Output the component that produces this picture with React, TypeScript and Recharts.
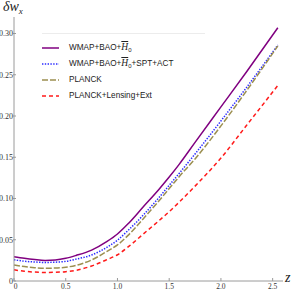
import React from 'react';
import { LineChart, Line, XAxis, YAxis } from 'recharts';

// redshift grid and the four dw_x curves
const zVals = [0, 0.1, 0.2, 0.3, 0.4, 0.5, 0.6, 0.75, 0.9, 1.0, 1.1, 1.25, 1.4, 1.5, 1.6, 1.75, 2.0, 2.25, 2.55];
const wmapBao = [0.0295, 0.0275, 0.026, 0.025, 0.0255, 0.0275, 0.031, 0.0375, 0.048, 0.057, 0.069, 0.09, 0.111, 0.126, 0.142, 0.168, 0.211, 0.254, 0.307];
const wmapSpt = [0.0258, 0.024, 0.023, 0.0225, 0.0228, 0.0238, 0.0265, 0.0315, 0.041, 0.0495, 0.061, 0.08, 0.101, 0.116, 0.131, 0.154, 0.194, 0.235, 0.286];
const planck = [0.0195, 0.0175, 0.0162, 0.0155, 0.0157, 0.0167, 0.019, 0.0255, 0.036, 0.0437, 0.055, 0.0755, 0.097, 0.112, 0.127, 0.148, 0.188, 0.231, 0.285];
const planckLens = [0.0135, 0.0118, 0.0108, 0.0104, 0.0106, 0.0113, 0.013, 0.0182, 0.026, 0.0318, 0.041, 0.057, 0.073, 0.084, 0.096, 0.115, 0.149, 0.189, 0.237];

const xTicks = [0, 0.5, 1.0, 1.5, 2.0, 2.5];
const yTicks = [0, 0.05, 0.1, 0.15, 0.2, 0.25, 0.3];

const data = zVals.map((z, i) => ({
  z,
  wmapBao: wmapBao[i],
  wmapSpt: wmapSpt[i],
  planck: planck[i],
  planckLens: planckLens[i],
}));

const AXIS = '#9a9a9a';
const SERIF = '"Liberation Serif", "DejaVu Serif", serif';
const SANS = '"Liberation Sans", Arial, sans-serif';

const series = [
  { key: 'wmapBao', color: '#800080', dash: undefined as string | undefined, label: 'bao' },
  { key: 'wmapSpt', color: '#2a2aff', dash: '1.4 1.4', label: 'spt' },
  { key: 'planck', color: '#9c8f50', dash: '6 2', label: 'planck' },
  { key: 'planckLens', color: '#ff1a1a', dash: '4 3', label: 'lens' },
];

const H0 = () => (
  <>
    <span style={{ fontFamily: SERIF, fontStyle: 'italic', textDecoration: 'overline', fontSize: 9.5 }}>H</span>
    <sub style={{ fontSize: 6, verticalAlign: '-2px' }}>0</sub>
  </>
);

const legendLabels: Record<string, React.ReactNode> = {
  bao: <>WMAP+BAO+<H0 /></>,
  spt: <>WMAP+BAO+<H0 />+SPT+ACT</>,
  planck: <>PLANCK</>,
  lens: <>PLANCK+Lensing+Ext</>,
};

const XTick = (props: any) => {
  const { x, y, payload } = props;
  const v = payload.value;
  return (
    <g>
      <line x1={x} x2={x} y1={y} y2={y - 3} stroke={AXIS} />
      <text x={v === 0 ? x + 1.5 : x} y={y + 2.5} dy="0.71em" textAnchor="middle" fontSize={7.5} fontFamily={SERIF} fill="#333">
        {v === 0 ? '0' : v.toFixed(1)}
      </text>
    </g>
  );
};

const YTick = (props: any) => {
  const { x, y, payload } = props;
  const v = payload.value;
  return (
    <g>
      <line x1={x - 1} x2={x + 2} y1={y} y2={y} stroke={AXIS} />
      <text x={x - 1} y={y} dy="0.35em" textAnchor="end" fontSize={8} fontFamily={SERIF} fill="#333">
        {v === 0 ? '0' : v.toFixed(2)}
      </text>
    </g>
  );
};

export default function App() {
  return (
    <div style={{ position: 'relative', width: 293, height: 290, background: '#fff', overflow: 'hidden' }}>
      <style>{'body{margin:0}'}</style>
      <LineChart width={293} height={290} data={data} margin={{ top: 17, right: 10, bottom: 0, left: 0 }}>
        <XAxis
          dataKey="z"
          type="number"
          domain={[0, 2.6]}
          ticks={xTicks}
          height={9}
          tickSize={0}
          tickMargin={0}
          tickLine={false}
          stroke={AXIS}
          tick={<XTick />}
          interval={0}
        />
        <YAxis
          type="number"
          domain={[0, 0.32]}
          ticks={yTicks}
          width={14}
          tickSize={0}
          tickMargin={0}
          tickLine={false}
          stroke={AXIS}
          tick={<YTick />}
          interval={0}
        />
        {series.map((s) => (
          <Line
            key={s.key}
            type="monotone"
            dataKey={s.key}
            stroke={s.color}
            strokeWidth={1.5}
            strokeDasharray={s.dash}
            dot={false}
            isAnimationActive={false}
          />
        ))}
      </LineChart>

      {/* axis labels */}
      <div style={{ position: 'absolute', left: 3, top: -1, fontFamily: SERIF, fontStyle: 'italic', fontSize: 14, color: '#222' }}>
        δw<sub style={{ fontSize: 9, verticalAlign: '-3px' }}>x</sub>
      </div>
      <div style={{ position: 'absolute', left: 285, top: 270, fontFamily: SERIF, fontStyle: 'italic', fontSize: 14, color: '#222' }}>
        z
      </div>

      {/* legend */}
      <div
        style={{
          position: 'absolute',
          left: 42,
          top: 33,
          width: 163,
          borderTop: '1px solid #ececec',
          paddingTop: 6,
          fontFamily: SANS,
          fontSize: 8.2,
          color: '#222',
        }}
      >
        {series.map((s) => (
          <div key={s.key} style={{ display: 'flex', alignItems: 'center', height: 16, whiteSpace: 'nowrap' }}>
            <svg width={17} height={4} style={{ flex: 'none' }}>
              <line x1={0} x2={17} y1={2} y2={2} stroke={s.color} strokeWidth={1.5} strokeDasharray={s.dash} />
            </svg>
            <span style={{ marginLeft: 10, lineHeight: '16px' }}>{legendLabels[s.label]}</span>
          </div>
        ))}
      </div>
    </div>
  );
}
